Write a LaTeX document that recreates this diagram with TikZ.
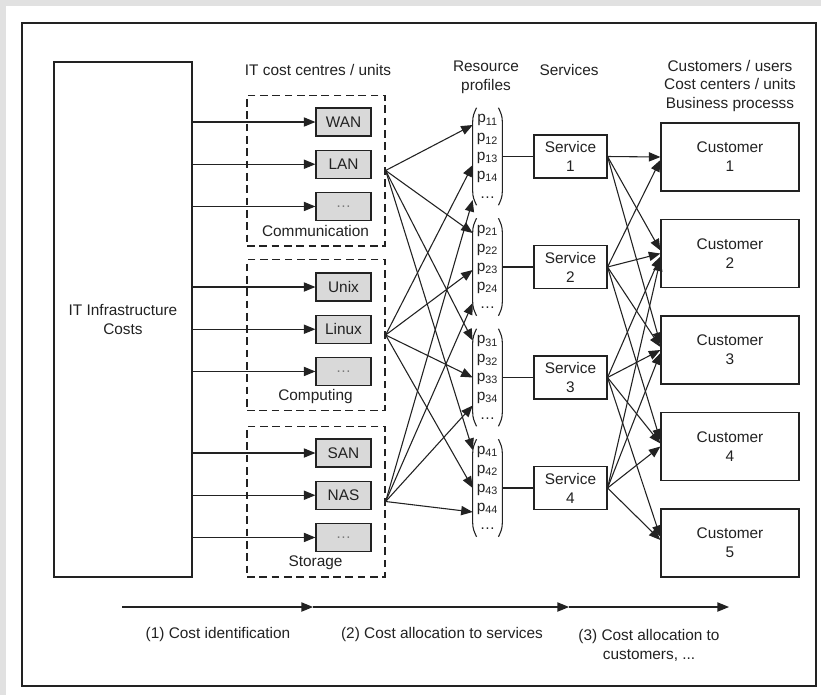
\documentclass[tikz,border=0pt]{standalone}
\usepackage{fontspec}
\setmainfont{Liberation Sans}
\usetikzlibrary{arrows.meta,positioning,calc}
\definecolor{Frame}{HTML}{E1E1E1}
\definecolor{Ink}{HTML}{222222}
\definecolor{Unit}{HTML}{D9D9D9}
\tikzset{
  every node/.style={font=\fontsize{10}{12.3}\selectfont,text=Ink},
  box/.style={draw=Ink,line width=0.8pt,fill=white,align=center,inner sep=0pt},
  unit/.style={box,fill=Unit,minimum width=35.75pt,minimum height=18.2pt},
  group/.style={draw=Ink,line width=0.8pt,dash pattern=on 5pt off 3pt,minimum width=89.7pt,minimum height=98pt,inner sep=0pt},
  profile/.style={align=center,minimum width=18.85pt,minimum height=63pt,inner sep=0pt},
  service/.style={box,minimum width=47.45pt,minimum height=27.95pt},
  customer/.style={box,minimum width=89.7pt,minimum height=44.2pt},
  arr/.style={-{Triangle[length=7.5pt,width=6pt]},draw=Ink,line width=0.7pt},
  link/.style={draw=Ink,line width=0.7pt}
}

\begin{document}
\begin{tikzpicture}[x=0.65pt,y=-0.65pt]
  \fill[Frame] (0,0) rectangle (821,695);
  \fill[white] (6,6) rectangle (821,695);
  \useasboundingbox (0,0) rectangle (821,695);
  \draw[Ink,line width=0.8pt] (22,23) rectangle (816,686);

  % cost source
  \node[box,minimum width=89.7pt,minimum height=334.75pt] (it) at (123,319.5) {IT Infrastructure\\Costs};

  % cost centres / units
  \node at (318,70) {IT cost centres / units};
  \node[group] (comm) at (316,170.5) {};
  \node[group] (comp) at (316,335) {};
  \node[group] (stor) at (316,501.5) {};
  \node[unit] (wan) at (343.5,122) {WAN};
  \node[unit,below=8.45pt of wan] (lan) {LAN};
  \node[unit,below=8.45pt of lan] (comdots) {\textcolor{Ink!60}{\dots}};
  \node[unit] (unix) at (343.5,287) {Unix};
  \node[unit,below=8.45pt of unix] (linux) {Linux};
  \node[unit,below=8.45pt of linux] (cmpdots) {\textcolor{Ink!60}{\dots}};
  \node[unit] (san) at (343.5,453) {SAN};
  \node[unit,below=8.45pt of san] (nas) {NAS};
  \node[unit,below=8.45pt of nas] (stodots) {\textcolor{Ink!60}{\dots}};
  \node at (315.5,231) {Communication};
  \node at (315.5,397) {Computing};
  \node at (315.5,563) {Storage};

  % resource profiles and services
  \node[align=center] at (486,77.5) {Resource\\profiles};
  \node at (569,70) {Services};
  \foreach \i in {1,...,4} {
    \node[profile] (pr\i) at (487.5,{156.5+110.5*(\i-1)})
      {p\textsubscript{\i1}\\p\textsubscript{\i2}\\p\textsubscript{\i3}\\p\textsubscript{\i4}\\\dots};
    \draw[link] ([xshift=2.5pt]pr\i.north west) to[out=-115,in=90] ([yshift=-9pt]pr\i.north west)
      -- ([yshift=9pt]pr\i.south west) to[out=-90,in=115] ([xshift=2.5pt]pr\i.south west);
    \draw[link] ([xshift=-2.5pt]pr\i.north east) to[out=-65,in=90] ([yshift=-9pt]pr\i.north east)
      -- ([yshift=9pt]pr\i.south east) to[out=-90,in=65] ([xshift=-2.5pt]pr\i.south east);
    \node[service,right=20.15pt of pr\i] (sv\i) {Service\\\i};
    \draw[link] (pr\i.east) -- (sv\i.west);
  }

  % customers
  \node[align=center] at (730,86) {Customers / users\\Cost centers / units\\Business processs};
  \foreach \i in {1,...,5}
    \node[customer] (cu\i) at (730,{157+96.5*(\i-1)}) {Customer\\\i};

  % connectors
  \foreach \u in {wan,lan,comdots,unix,linux,cmpdots,san,nas,stodots}
    \draw[arr] (it.east |- \u) -- (\u);
  \foreach \g/\p/\o in {comm/1/-31.5,comm/2/-34,comm/3/-37,comm/4/-38,
                        comp/1/8.5,comp/2/3,comp/3/0,comp/4/0,
                        stor/1/43.5,stor/2/36,stor/3/28,stor/4/24}
    \draw[arr] (\g.east) -- ($(pr\p.west)+(0,\o)$);
  \foreach \s/\c in {1/1,1/2,1/3,2/1,2/2,2/3,2/4,3/2,3/3,3/4,3/5,4/2,4/3,4/4,4/5}
    \draw[arr] (sv\s.east) -- ($(cu\c.west)+(0,{3*(\s-\c)})$);

  % phases
  \coordinate (st0) at (122,607);
  \coordinate (st1) at (313,607);
  \coordinate (st2) at (569,607);
  \coordinate (st3) at (729,607);
  \draw[arr] (st0) -- (st1);
  \draw[arr] (st1) -- (st2);
  \draw[arr] (st2) -- (st3);
  \node at (218,635) {(1) Cost identification};
  \node at (442,635) {(2) Cost allocation to services};
  \node[align=center] at (649,645) {(3) Cost allocation to\\customers, ...};
\end{tikzpicture}
\end{document}
